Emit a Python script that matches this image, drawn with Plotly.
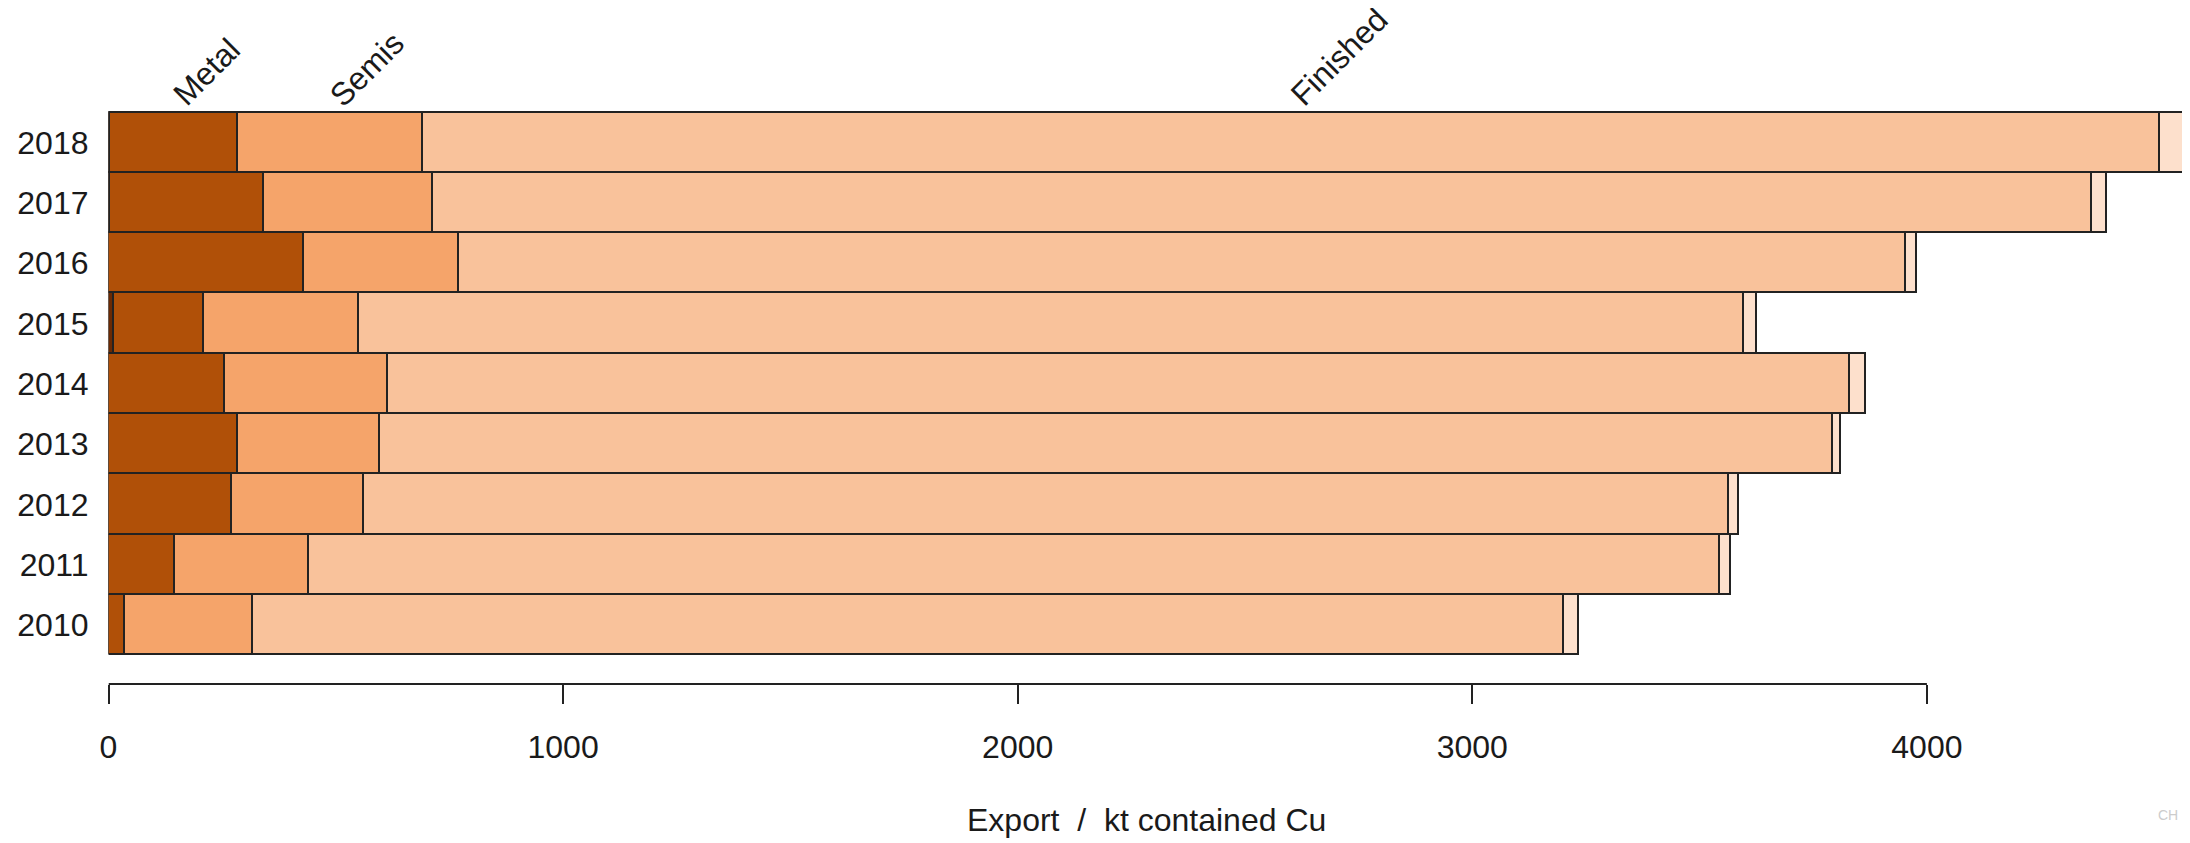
import plotly.graph_objects as go

years = [2010, 2011, 2012, 2013, 2014, 2015, 2016, 2017, 2018]
segment_names = ["Ore", "Metal", "Semis", "Finished", "Scrap"]
label_names = ["", "Metal", "Semis", "Finished", ""]

ore = [1, 1, 1, 1, 1, 10, 1, 3, 3]
metal = [34, 145, 269, 282, 255, 198, 427, 337, 280]
semis = [282, 294, 290, 313, 357, 343, 341, 373, 408]
finished = [2883, 3104, 3003, 3196, 3217, 3045, 3183, 3650, 3820]
scrap = [34, 25, 23, 18, 34, 30, 26, 31, 54]

x_ticks = [0, 1000, 2000, 3000, 4000]
x_title = "Export\u00a0\u00a0/\u00a0\u00a0kt contained Cu"

colors = ["#6b2a03", "#b05008", "#f5a46a", "#f9c29b", "#fde0cc"]
series = [ore, metal, semis, finished, scrap]

W, H = 2190, 843
left_px, top_px, bottom_px = 100.5, 85, 676  # plot area in page pixels

fig = go.Figure()
for name, vals, col in zip(segment_names, series, colors):
    fig.add_trace(go.Bar(
        y=years, x=vals, name=name, orientation="h", width=1,
        marker=dict(color=col, line=dict(color="#222222", width=1.6)),
        showlegend=False,
    ))

# labels above top bar, at segment midpoints
top = len(years) - 1
cum = 0
for lab, vals in zip(label_names, series):
    v = vals[top]
    mid = cum + v / 2
    cum += v
    if lab:
        fig.add_annotation(
            x=mid, y=years[top] + 0.5, xref="x", yref="y",
            text=lab, textangle=-45, showarrow=False,
            xanchor="left", yanchor="bottom", xshift=-10, yshift=-3,
            font=dict(size=32, color="#1a1a1a"),
        )

totals = [sum(s[i] for s in series) for i in range(len(years))]

fig.add_annotation(
    x=max(totals) / 2, y=(H - 812) / H, xref="x", yref="paper",
    text=x_title, showarrow=False, yanchor="middle",
    font=dict(size=32, color="#1a1a1a"),
)
fig.add_annotation(
    x=2172 / W, y=(H - 807) / H, xref="paper", yref="paper", text="CH", showarrow=False,
    xanchor="right", yanchor="middle", font=dict(size=14, color="#cccccc"),
)
fig.add_shape(
    type="line", xref="x", yref="y domain", x0=x_ticks[0], x1=x_ticks[-1], y0=0, y1=0,
    line=dict(color="#222222", width=2),
)

fig.update_layout(
    width=W, height=H, barmode="stack", bargap=0,
    plot_bgcolor="white", paper_bgcolor="white",
    margin=dict(l=0, r=0, t=0, b=0, autoexpand=False),
    font=dict(family="Liberation Sans, Arial, sans-serif", size=32, color="#1a1a1a"),
    xaxis=dict(
        domain=[left_px / W, 1], range=[0, (W - left_px) / 0.4546],
        tickvals=x_ticks, ticktext=[str(t) for t in x_ticks],
        ticks="outside", ticklen=19, tickwidth=1.6, tickcolor="#222222",
        showgrid=False, zeroline=False, showline=False, ticklabelstandoff=16,
        automargin=False,
    ),
    yaxis=dict(
        domain=[(H - bottom_px) / H, (H - top_px) / H],
        range=[years[0] - 0.98, years[-1] + 0.825], tickvals=years,
        ticktext=[str(y) for y in years], showgrid=False, zeroline=False,
        showline=False, ticks="", ticklabelstandoff=19, automargin=False,
    ),
)

fig.write_html("out.html")
